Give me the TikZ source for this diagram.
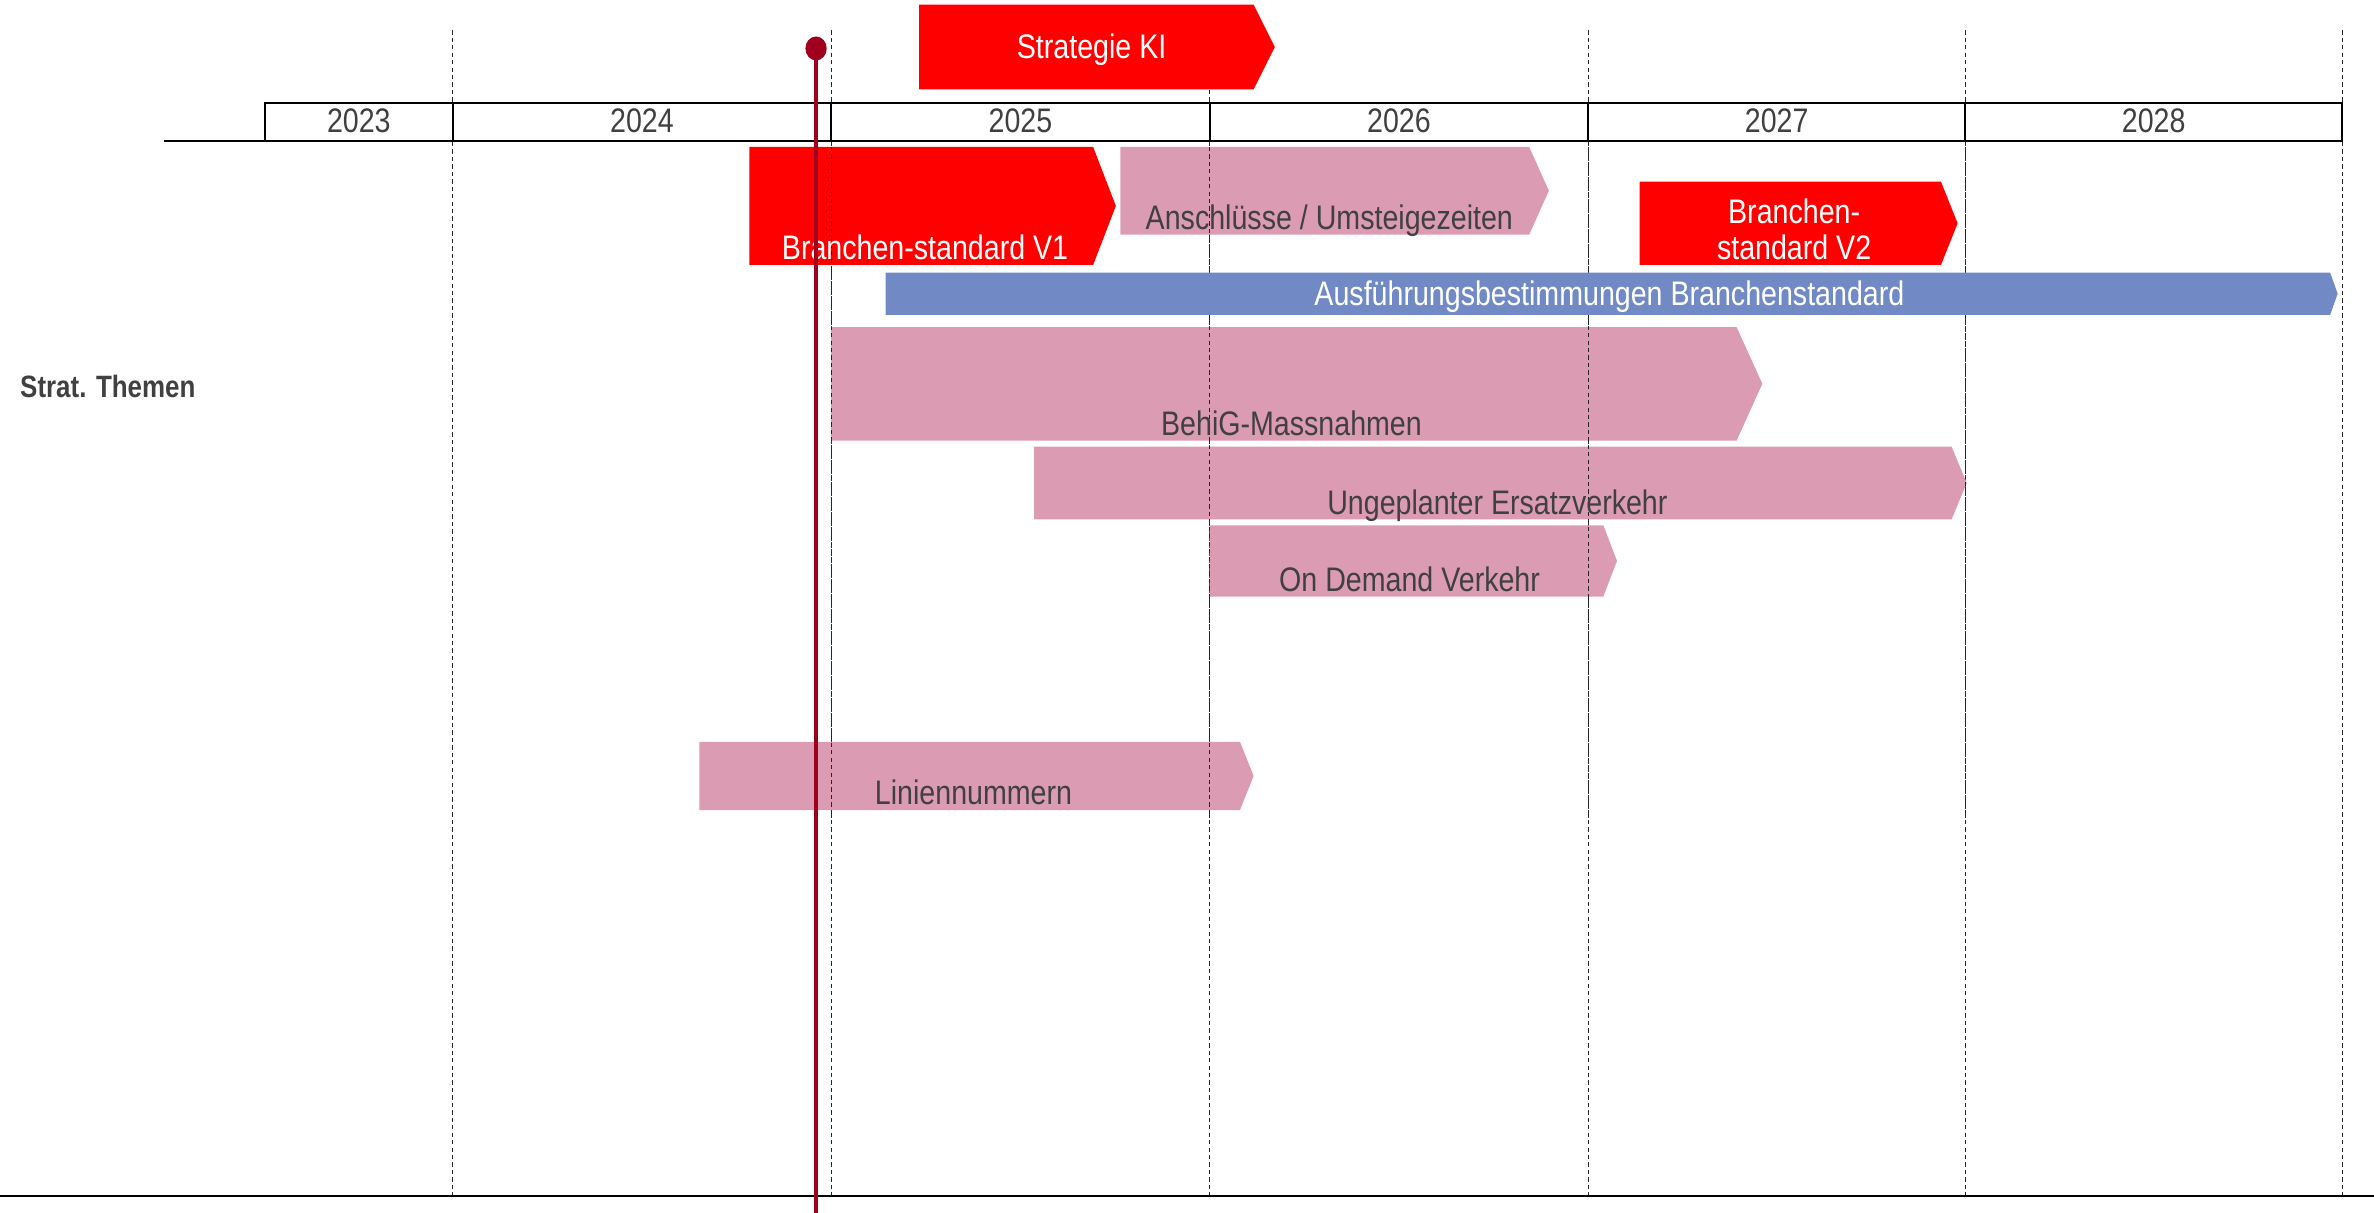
\documentclass[tikz,border=0pt]{standalone}
\usepackage{fontspec}
\setmainfont{Liberation Sans}[FakeStretch=0.84]
\usepackage{xcolor}
\usetikzlibrary{positioning, shapes.geometric}

\definecolor{kired}{HTML}{FF0000}
\definecolor{rosa}{HTML}{DB9BB2}
\definecolor{blau}{HTML}{718AC5}
\definecolor{heute}{HTML}{A0001E}
\definecolor{txtgrau}{HTML}{404040}

% chevron bar: left, top, right (tip), bottom, start of tip, style
\newcommand{\balken}[6]{%
  \fill[#6] (#1,#2) -- (#5,#2) -- (#3,{(#2+#4)/2}) -- (#5,#4) -- (#1,#4) -- cycle;}

\begin{document}
\begin{tikzpicture}[x=0.02cm, y=-0.02cm,
    every node/.style={font=\fontsize{12.8}{14.5}\selectfont, inner sep=0pt, text=txtgrau},
    rotbar/.style={fill=kired},
    rosabar/.style={fill=rosa},
    blaubar/.style={fill=blau},
    weiss/.style={text=white},
    jahrlinie/.style={dash pattern=on 1.6pt off 1.2pt, line width=0.4pt, black!85}]
    \useasboundingbox (0,0) rectangle (1568,801);

    % year grid
    \foreach \x in {299,549,799,1049,1298,1547} {
        \draw[jahrlinie] (\x,20) -- (\x,790);
    }

    % bars below the timeline
    \balken{495}{97}{737}{175}{722}{rotbar}
    \balken{740}{97}{1023}{155}{1010}{rosabar}
    \balken{1083}{120}{1293}{175}{1282}{rotbar}
    \balken{549}{216}{1164}{291}{1147}{rosabar}
    \balken{683}{295}{1299}{343}{1289}{rosabar}
    \balken{799}{347}{1068}{394}{1059}{rosabar}
    \balken{462}{490}{828}{535}{819}{rosabar}
    \foreach \x in {549,799,1049,1298} {
        \draw[jahrlinie] (\x,97) -- (\x,540);
    }
    \balken{585}{180}{1544}{208}{1539}{blaubar}
    \balken{607}{3}{842}{59}{828}{rotbar}

    % year header
    \draw[line width=0.9pt] (108,93) -- (175,93);
    \foreach \a/\b/\j in {175/299/2023,299/549/2024,549/799/2025,799/1049/2026,1049/1298/2027,1298/1547/2028} {
        \draw[line width=0.9pt] (\a,68) rectangle (\b,93);
        \node[anchor=mid] (j\j) at ({(\a+\b)/2},83) {\j};
    }
    \draw[line width=0.7pt] (0,790) -- (1568,790);

    % labels
    \node[anchor=mid, weiss] (ki) at (721,34) {Strategie KI};
    \node[anchor=mid, weiss] (bsv1) at (611,167) {Branchen-standard V1};
    \node[anchor=mid] (ansch) at (878,147) {Anschlüsse / Umsteigezeiten};
    \node[anchor=mid, weiss, align=center] (bsv2) at (1185,167) {Branchen-\\[-1pt]standard V2};
    \node[anchor=mid, weiss] (ausf) at (1063,197) {Ausführungsbestimmungen Branchenstandard};
    \node[anchor=mid] (behig) at (853,283) {BehiG-Massnahmen};
    \node[anchor=mid] (ersatz) at (989,335) {Ungeplanter Ersatzverkehr};
    \node[anchor=mid] (ondem) at (931,386) {On Demand Verkehr};
    \node[anchor=mid] (linien) at (643,527) {Liniennummern};
    \node[anchor=mid west, font=\fontsize{11.6}{13}\selectfont\bfseries] (themen) at (13,258) {Strat. Themen};

    % today marker
    \coordinate (heuteunten) at (539,801);
    \node[ellipse, fill=heute, minimum width=8pt, minimum height=9pt, inner sep=0pt] (heutepunkt) at (539,32) {};
    \draw[heute, line width=1.5pt] (heutepunkt.center) -- (heuteunten);
\end{tikzpicture}
\end{document}
